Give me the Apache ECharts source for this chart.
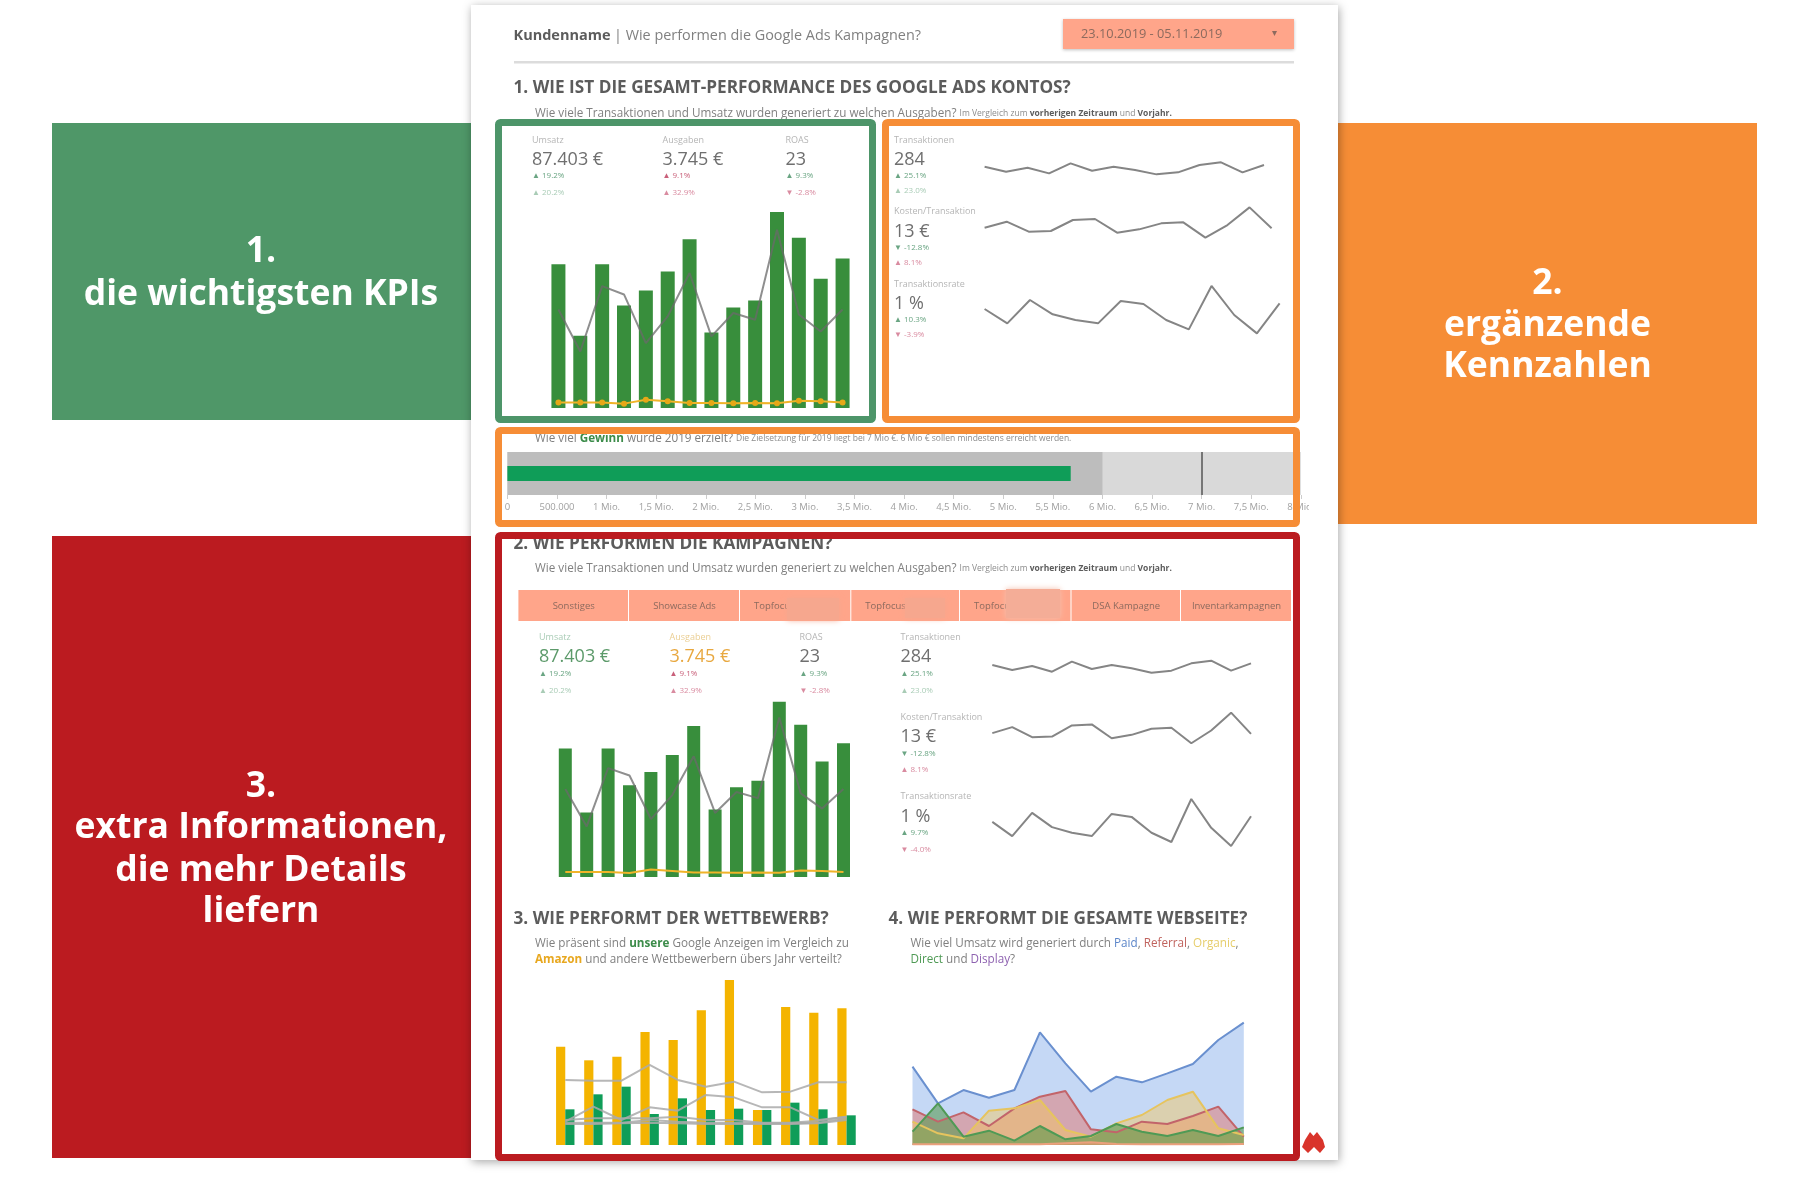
<!DOCTYPE html>
<html>
<head>
<meta charset="utf-8">
<title>Google Ads Dashboard</title>
<style>html,body{margin:0;padding:0;background:#fff}#main{width:1807px;height:1190px}</style>
<script src="https://cdn.jsdelivr.net/npm/echarts@6/dist/echarts.min.js"></script>
</head>
<body>
<div id="main"></div>
<script>
// Werte
var tage = ['23.10','24.10','25.10','26.10','27.10','28.10','29.10','30.10','31.10','01.11','02.11','03.11','04.11','05.11'];
var umsatz = [6930,3480,6930,4940,5660,6580,8130,3640,4840,5180,9440,8200,6220,7200];
var ausgaben = [270,270,270,210,400,320,240,240,225,240,225,350,320,270];
var transaktionen = [20.2,11.6,25,23.3,13.3,18.8,27.7,14.7,19.5,18.1,36.6,19.2,15.7,20.2];
var sparkTransaktionen = [20,18.5,19.7,18,21,18.8,20,19,17.7,18.3,20.5,21.3,18.3,20.5];
var sparkKosten = [13.7,15.5,12.5,12.7,16,16.3,12.2,13.2,15,15.3,10.7,14.5,19.8,13.5];
var sparkRate = [0.915,0.7,1.05,0.835,0.75,0.7,1.035,0.99,0.75,0.61,1.26,0.825,0.55,1.0];

var gewinn = 5680000;
var gewinnBereiche = [6000000, 8000000];
var gewinnZiel = 7000000;
var gewinnTicks = ['0','500.000','1 Mio.','1,5 Mio.','2 Mio.','2,5 Mio.','3 Mio.','3,5 Mio.','4 Mio.','4,5 Mio.','5 Mio.','5,5 Mio.','6 Mio.','6,5 Mio.','7 Mio.','7,5 Mio.','8 Mio.'];

var kampagnen = ['Sonstiges','Showcase Ads','Topfocus','Topfocus','Topfocus','DSA Kampagne','Inventarkampagnen'];

var monate = ['Feb','Mär','Apr','Mai','Jun','Jul','Aug','Sep','Okt','Nov','Dez'];
var amazon = [29.5,25.4,26.5,33.9,31.5,40.4,49.5,10.5,41.4,39.7,41];
var unsere = [10.7,15.2,17.5,9.3,14,10.5,10.9,10.5,12.7,10.7,8.9];
var wettbewerbA = [19.5,19.3,19.3,24,19.5,17.5,19,15.8,16,18.8,18.8];
var wettbewerbB = [7,11.5,7.5,11.3,10.3,15,14.3,11.3,11.3,7.5,8.5];
var wettbewerbC = [7.5,8,8,8,8.5,7.5,7.5,6.7,6.7,7.3,8.5];
var wettbewerbD = [6.7,6.7,6.7,7.5,7,6.7,6.7,6.5,6.5,6.7,8];
var wettbewerbE = [6.3,6.3,6.5,6.7,6.5,6.3,6.3,6.3,6.3,6.5,7.5];

var paid = [235,125,165,142,165,338,245,160,205,188,215,243,315,367];
var referral = [107,70,98,57,110,145,162,47,38,70,63,87,115,25];
var organic = [70,35,20,103,110,135,45,25,65,90,135,160,50,30];
var direct = [40,125,25,43,13,57,17,27,63,40,27,45,27,53];
var display = [2,2,2,2,2,2,5,8,3,2,2,2,2,3];

var FONT = '"Open Sans", sans-serif';
var GRUEN = '#4f9768', ORANGE = '#f68d36', ROT = '#bb1b20';
var BALKEN = '#388e3c', GOOGLE_GRUEN = '#0f9d58', GELB = '#f4b400';
var pos = '#6aa583', pos2 = '#a9ccb6', neg = '#c9607a', neg2 = '#d98ba0';
var HEAD = 17.2, SUB = 11.7;

var grids = [], xAxes = [], yAxes = [], series = [], gfx = [];

function addGrid(x, y, w, h, cats, boundary, yMax, yMin) {
	grids.push({left: x, top: y, width: w, height: h});
	var g = grids.length - 1;
	xAxes.push({gridIndex: g, type: 'category', data: cats, show: false, boundaryGap: boundary});
	yAxes.push({gridIndex: g, type: 'value', show: false, min: yMin || 0, max: yMax});
	return {x: xAxes.length - 1, y: yAxes.length - 1, grid: g};
}

function txt(x, y, text, size, color, weight, align, z) {
	gfx.push({type: 'text', z: z || 50, style: {
		x: x, y: y, text: text, fill: color, align: align || 'left', verticalAlign: 'middle',
		fontFamily: FONT, fontSize: size, fontWeight: weight || 'normal'
	}});
}

function richTxt(x, y, text, rich, size) {
	gfx.push({type: 'text', z: 50, style: {
		x: x, y: y, text: text, rich: rich, fill: '#808080', fontFamily: FONT, fontSize: size,
		align: 'left', verticalAlign: 'middle'
	}});
}

function box(x, y, w, h, color, z, extra) {
	var st = {fill: color};
	for (var k in (extra || {})) st[k] = extra[k];
	gfx.push({type: 'rect', z: z, shape: {x: x, y: y, width: w, height: h}, style: st});
}

function frame(x0, y0, x1, y1, color) {
	gfx.push({type: 'rect', z: 100, shape: {x: x0 + 3.5, y: y0 + 3.5, width: x1 - x0 - 7, height: y1 - y0 - 7, r: 2},
		style: {fill: 'none', stroke: color, lineWidth: 7}});
}

function kpi(x, yLabel, yWert, yD1, yD2, label, wert, d1, d2, labelCol, wertCol) {
	txt(x, yLabel, label, 9, labelCol || '#b5b5b5');
	txt(x, yWert + 1, wert, 18, wertCol || '#6f6f6f');
	txt(x, yD1, d1[0], 8, d1[1]);
	txt(x, yD2, d2[0], 8, d2[1]);
}

function bars(ax, data, color, width, extra) {
	var s = {type: 'bar', xAxisIndex: ax.x, yAxisIndex: ax.y, data: data, barWidth: width,
		itemStyle: {color: color}, silent: true};
	for (var k in (extra || {})) s[k] = extra[k];
	series.push(s);
}

function line(ax, data, color, width, extra) {
	var s = {type: 'line', xAxisIndex: ax.x, yAxisIndex: ax.y, data: data, symbol: 'none',
		lineStyle: {color: color, width: width}, silent: true};
	for (var k in (extra || {})) s[k] = extra[k];
	series.push(s);
}

function hauptChart(x, y, w, h, barW, punkte) {
	var ax = addGrid(x, y, w, h, tage, true, 10000);
	bars(ax, umsatz, BALKEN, barW);
	line(ax, ausgaben, '#f0b429', 2, punkte ? {symbol: 'circle', symbolSize: 6, itemStyle: {color: '#e6a817'}} : {});
	// zweite Achse fuer Transaktionen
	yAxes.push({gridIndex: ax.grid, type: 'value', show: false, min: 0, max: 42.6});
	line({x: ax.x, y: yAxes.length - 1}, transaktionen, 'rgba(105,105,105,0.75)', 2);
}

function spark(x, y, w, h, data, min, max) {
	var ax = addGrid(x, y, w, h, tage, false, max, min);
	line(ax, data, '#858585', 2);
}

// linke und rechte Farbblöcke
box(52, 123, 419, 297, GRUEN, 1);
box(1338, 123, 419, 401, ORANGE, 1);
box(52, 536, 419, 622, ROT, 1);
box(471, 5, 867, 1155, '#fff', 1, {shadowBlur: 9, shadowColor: 'rgba(0,0,0,0.35)', shadowOffsetX: 1, shadowOffsetY: 2});

function grossText(x, ys, zeilen) {
	for (var i = 0; i < zeilen.length; i++) txt(x, ys[i], zeilen[i], 35.5, '#fff', 'bold', 'center');
}
grossText(261, [252, 294.5], ['1.', 'die wichtigsten KPIs']);
grossText(1547.5, [284, 326, 367], ['2.', 'ergänzende', 'Kennzahlen']);
grossText(261, [787, 828, 871, 912], ['3.', 'extra Informationen,', 'die mehr Details', 'liefern']);

// Kopfzeile
txt(513.5, 35.5, 'Kundenname', 14.5, '#5c5c5c', 'bold');
txt(614, 35.5, '| Wie performen die Google Ads Kampagnen?', 14.4, '#808080');
box(1063, 19, 231, 30, '#ffa58a', 3, {shadowBlur: 3, shadowColor: 'rgba(0,0,0,0.25)', shadowOffsetY: 1});
txt(1081, 34.5, '23.10.2019 - 05.11.2019', 12.8, '#8c6a5e');
txt(1274, 33, '▾', 10, '#8c6a5e', 'normal', 'center');
box(514, 61, 780, 2.5, '#dcdcdc', 3);

var rich = {
	k: {fontSize: 8.5, fill: '#8c8c8c', fontFamily: FONT},
	b: {fontSize: 8.5, fill: '#5c5c5c', fontWeight: 'bold', fontFamily: FONT},
	g: {fontSize: SUB, fill: '#3c8c4a', fontWeight: 'bold', fontFamily: FONT},
	a: {fontSize: SUB, fill: '#e8a820', fontWeight: 'bold', fontFamily: FONT},
	blau: {fontSize: SUB, fill: '#5b85c8', fontFamily: FONT},
	rot: {fontSize: SUB, fill: '#c0635e', fontFamily: FONT},
	gelb: {fontSize: SUB, fill: '#e6cd6a', fontFamily: FONT},
	gr: {fontSize: SUB, fill: '#4f9a55', fontFamily: FONT},
	lila: {fontSize: SUB, fill: '#8e62b0', fontFamily: FONT}
};
var vergleich = 'Wie viele Transaktionen und Umsatz wurden generiert zu welchen Ausgaben? {k|Im Vergleich zum }{b|vorherigen Zeitraum}{k| und }{b|Vorjahr.}';

txt(513.5, 88, '1. WIE IST DIE GESAMT-PERFORMANCE DES GOOGLE ADS KONTOS?', HEAD, '#5c5c5c', 'bold');
richTxt(535, 113.5, vergleich, rich, SUB);

// 1. KPIs
kpi(532, 140, 159, 176, 192.5, 'Umsatz', '87.403 €', ['▲ 19.2%', pos], ['▲ 20.2%', pos2]);
kpi(662.5, 140, 159, 176, 192.5, 'Ausgaben', '3.745 €', ['▲ 9.1%', neg], ['▲ 32.9%', neg2]);
kpi(785.5, 140, 159, 176, 192.5, 'ROAS', '23', ['▲ 9.3%', pos], ['▼ -2.8%', neg2]);
hauptChart(547.5, 200.4, 306, 207.6, 14, true);

// 2. Kennzahlen
kpi(894, 140, 159, 176, 190.5, 'Transaktionen', '284', ['▲ 25.1%', pos], ['▲ 23.0%', pos2]);
kpi(894, 211.5, 230.5, 248, 262.5, 'Kosten/Transaktion', '13 €', ['▼ -12.8%', pos], ['▲ 8.1%', neg2]);
kpi(894, 284, 302.5, 320, 335, 'Transaktionsrate', '1 %', ['▲ 10.3%', pos], ['▼ -3.9%', neg2]);
spark(984.6, 161.7, 279.4, 15, sparkTransaktionen, 17, 21.5);
spark(984.6, 206.7, 287, 33.3, sparkKosten, 10, 20);
spark(984.6, 283.3, 295, 53.4, sparkRate, 0.5, 1.3);

// Gewinn Bullet
richTxt(535, 439, 'Wie viel {g|Gewinn} wurde 2019 erzielt? {k|Die Zielsetzung für 2019 liegt bei 7 Mio €. 6 Mio € sollen mindestens erreicht werden.}', rich, SUB);
grids.push({left: 507.4, top: 452, width: 793.4, height: 43});
var bg = grids.length - 1;
xAxes.push({gridIndex: bg, type: 'value', min: 0, max: 8000000, interval: 500000, z: 5, splitLine: {show: false},
	axisLine: {show: false}, axisTick: {show: true, length: 4, lineStyle: {color: '#ccc'}},
	axisLabel: {color: '#a0a0a0', fontSize: 9.5, fontFamily: FONT, margin: 7, hideOverlap: false, showMaxLabel: true,
		formatter: function (v) { return gewinnTicks[Math.round(v / 500000)]; }}});
var bx = xAxes.length - 1;
yAxes.push({gridIndex: bg, type: 'category', data: ['Gewinn'], show: false});
var by = yAxes.length - 1;
yAxes.push({gridIndex: bg, type: 'category', data: ['Gewinn'], show: false});
var by2 = yAxes.length - 1;
var bax = {x: bx, y: by};
bars(bax, [gewinnBereiche[1]], '#d9d9d9', 43, {barGap: '-100%'});
bars(bax, [gewinnBereiche[0]], '#bdbdbd', 43, {barGap: '-100%',
	markLine: {silent: true, symbol: 'none', label: {show: false}, lineStyle: {color: '#555', type: 'solid', width: 1.5},
		data: [{xAxis: gewinnZiel}]}});
bars({x: bx, y: by2}, [gewinn], GOOGLE_GRUEN, 15, {z: 3});
box(1309, 498, 28, 18, '#fff', 60);

// 3. Kampagnen
txt(513.5, 544, '2. WIE PERFORMEN DIE KAMPAGNEN?', HEAD, '#5c5c5c', 'bold');
richTxt(535, 568.5, vergleich, rich, SUB);
var tabX = [518.4, 629, 740, 851.3, 960, 1071.5, 1181, 1292];
for (var i = 0; i < kampagnen.length; i++) {
	box(tabX[i], 590, tabX[i + 1] - tabX[i] - 1, 31, '#ffa58a', 3);
	if (kampagnen[i] === 'Topfocus') txt(tabX[i] + 14, 606, kampagnen[i], 9.5, '#8c6a5e');
	else txt((tabX[i] + tabX[i + 1]) / 2, 606, kampagnen[i], 9.5, '#8c6a5e', 'normal', 'center');
}
box(787, 598, 52, 22, '#f6a78e', 55, {shadowBlur: 6, shadowColor: '#f6a78e'});
box(905, 598, 40, 20, '#f6a78e', 55, {shadowBlur: 6, shadowColor: '#f6a78e'});
box(1006, 589, 54, 29, '#f4ad97', 55, {shadowBlur: 6, shadowColor: '#f4c0ae'});

kpi(539, 637.5, 656, 674, 690.5, 'Umsatz', '87.403 €', ['▲ 19.2%', pos], ['▲ 20.2%', pos2], '#a9ccb6', '#5c9a6a');
kpi(669.5, 637.5, 656, 674, 690.5, 'Ausgaben', '3.745 €', ['▲ 9.1%', neg], ['▲ 32.9%', neg2], '#ebcf94', '#e8a840');
kpi(799.5, 637.5, 656, 674, 690.5, 'ROAS', '23', ['▲ 9.3%', pos], ['▼ -2.8%', neg2]);
kpi(900.5, 637.5, 656, 674, 690.5, 'Transaktionen', '284', ['▲ 25.1%', pos], ['▲ 23.0%', pos2]);
kpi(900.5, 717.5, 736, 754, 770, 'Kosten/Transaktion', '13 €', ['▼ -12.8%', pos], ['▲ 8.1%', neg2]);
kpi(900.5, 796.5, 815.5, 833, 849.5, 'Transaktionsrate', '1 %', ['▲ 9.7%', pos], ['▼ -4.0%', neg2]);
hauptChart(554.6, 691.4, 299.6, 185.6, 13, false);
spark(992.3, 660, 258.7, 15, sparkTransaktionen, 17, 21.5);
spark(992.3, 712, 258.7, 33.6, sparkKosten, 10, 20);
spark(992.3, 796.4, 258.7, 52.9, sparkRate, 0.5, 1.3);

// 3. Wettbewerb
txt(513.5, 919, '3. WIE PERFORMT DER WETTBEWERB?', HEAD, '#5c5c5c', 'bold');
richTxt(535, 943.5, 'Wie präsent sind {g|unsere} Google Anzeigen im Vergleich zu', rich, SUB);
richTxt(535, 959.5, '{a|Amazon} und andere Wettbewerbern übers Jahr verteilt?', rich, SUB);
var wAx = addGrid(551.2, 978.3, 309.4, 166.7, monate, true, 50);
bars(wAx, amazon, GELB, 9.2, {barGap: '0%'});
bars(wAx, unsere, GOOGLE_GRUEN, 9.2, {barGap: '0%'});
[wettbewerbA, wettbewerbB, wettbewerbC, wettbewerbD, wettbewerbE].forEach(function (d) {
	line(wAx, d, 'rgba(170,170,170,0.85)', 2);
});

// 4. Webseite
txt(888.5, 919, '4. WIE PERFORMT DIE GESAMTE WEBSEITE?', HEAD, '#5c5c5c', 'bold');
richTxt(910.5, 943.5, 'Wie viel Umsatz wird generiert durch {blau|Paid}, {rot|Referral}, {gelb|Organic},', rich, SUB);
richTxt(910.5, 959.5, '{gr|Direct} und {lila|Display}?', rich, SUB);
var aAx = addGrid(912.5, 1011.7, 331.3, 133.3, tage, false, 400);
function area(d, col, fill) {
	line(aAx, d, col, 2, {areaStyle: {color: fill, opacity: 1}});
}
area(paid, '#6a90cf', 'rgba(197,216,245,1)');
area(referral, '#c2646a', 'rgba(226,115,110,0.5)');
area(organic, '#e6c45e', 'rgba(246,200,90,0.45)');
area(direct, '#4f9a55', 'rgba(80,150,70,0.55)');
area(display, '#eba07c', 'rgba(235,150,110,0.6)');

// Logo unten rechts
gfx.push({type: 'polygon', z: 60, shape: {points: [[1302, 1147], [1305, 1140], [1310, 1132], [1313.5, 1136], [1317, 1132], [1323, 1140], [1325, 1147], [1320, 1153], [1314, 1147], [1308, 1153]]},
	style: {fill: '#d9342b'}});

frame(495, 119, 876, 423, '#4d9569');
frame(882, 119, 1300, 423, ORANGE);
frame(495, 427, 1300, 527, ORANGE);
frame(495, 532, 1300, 1161, ROT);

var myChart = echarts.init(document.getElementById('main'));
myChart.setOption({
	animation: false,
	backgroundColor: '#fff',
	textStyle: {fontFamily: FONT},
	grid: grids,
	xAxis: xAxes,
	yAxis: yAxes,
	series: series,
	graphic: {elements: gfx}
});
</script>
</body>
</html>
